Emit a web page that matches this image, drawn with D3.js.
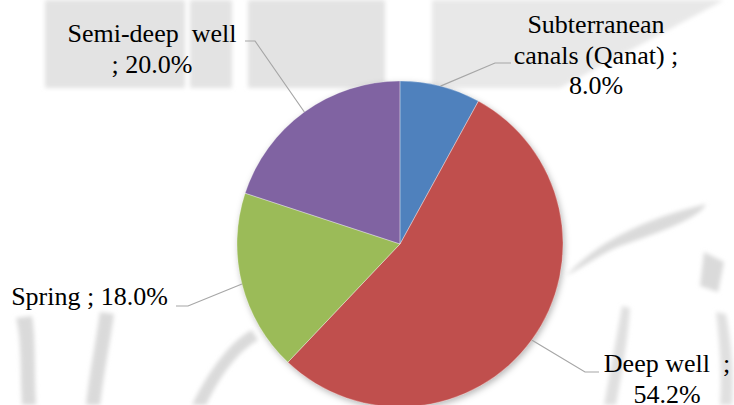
<!DOCTYPE html>
<html>
<head>
<meta charset="utf-8">
<script src="https://cdn.jsdelivr.net/npm/d3@7"></script>
<style>
  html, body { margin: 0; padding: 0; background: #fff; }
  svg { display: block; }
</style>
</head>
<body>
<svg id="chart" width="734" height="405"></svg>
<script>
// Water sources, share of total (%)
const categories = ["Subterranean canals (Qanat)", "Deep well ", "Spring", "Semi-deep  well"];
const values = [8.0, 54.2, 18.0, 20.0];
const colors = ["#4F81BD", "#C0504D", "#9BBB59", "#8064A2"];

// Label placement: text anchor point, line breaks and leader elbow
const labelLayout = [
  { x: 596, y: 33, breaks: ["Subterranean", ";"], elbow: [495, 63], end: [511, 63] },
  { x: 667, y: 372, breaks: [";"], elbow: [585, 372], end: [599, 372] },
  { x: 89.5, y: 305, breaks: [], elbow: [188, 306], end: [176, 306] },
  { x: 152, y: 42, breaks: ["well"], elbow: [255, 41], end: [245, 41] }
];

const W = 734, H = 405;
const cx = 400, cy = 244, R = 163;
const lineH = 30.5;

const svg = d3.select("#chart");
const defs = svg.append("defs");

defs.append("filter").attr("id", "soft").attr("x", "-20%").attr("y", "-20%").attr("width", "140%").attr("height", "140%")
  .append("feGaussianBlur").attr("stdDeviation", 2.2);

const shadow = defs.append("filter").attr("id", "shadow")
  .attr("x", "-20%").attr("y", "-20%").attr("width", "140%").attr("height", "140%");
shadow.append("feDropShadow").attr("dx", 1.5).attr("dy", 2.5).attr("stdDeviation", 3)
  .attr("flood-color", "#000").attr("flood-opacity", 0.28);

// Faint background artwork
const bg = svg.append("g").attr("filter", "url(#soft)");
const band = "#e3e3e3";
[[45, 0, 140, 88], [190, 0, 42, 88], [248, 0, 137, 88]].forEach(r =>
  bg.append("rect").attr("x", r[0]).attr("y", r[1]).attr("width", r[2]).attr("height", r[3]).attr("fill", band));
bg.append("path").attr("d", "M432,0 L724,0 L640,45 L560,88 L432,88 Z").attr("fill", "#e8e8e8");
const stroke = "#dadada";
bg.append("path").attr("d", "M16,318 C22,340 20,370 22,405 L36,405 C34,370 36,340 32,316 Z").attr("fill", stroke);
bg.append("path").attr("d", "M100,312 C96,340 90,370 86,405 L100,405 C104,372 110,342 114,314 Z").attr("fill", stroke);
bg.append("path").attr("d", "M252,330 C232,340 210,368 192,405 L206,405 C222,372 240,350 258,340 Z").attr("fill", stroke);
bg.append("path").attr("d", "M566,276 C590,250 630,222 706,204 C700,218 660,232 620,246 C600,254 585,266 566,276 Z").attr("fill", stroke);
bg.append("path").attr("d", "M704,252 L724,262 L718,292 L700,286 Z").attr("fill", stroke);
bg.append("path").attr("d", "M622,306 C616,340 610,372 604,405 L616,405 C622,372 628,340 630,308 Z").attr("fill", "#e0e0e0");
bg.append("path").attr("d", "M716,312 C720,345 722,375 720,405 L732,405 C734,375 732,345 726,314 Z").attr("fill", "#e0e0e0");

// Pie
const pie = d3.pie().sort(null).value(d => d.v);
const data = values.map((v, i) => ({ v, name: categories[i], color: colors[i] }));
const arcs = pie(data);
const arc = d3.arc().innerRadius(0).outerRadius(R);

const pg = svg.append("g").attr("transform", `translate(${cx},${cy})`);
pg.append("g").attr("filter", "url(#shadow)")
  .selectAll("path").data(arcs).join("path")
  .attr("d", arc).attr("fill", d => d.data.color);
pg.selectAll("path.sep").data(arcs).join("path").attr("class", "sep")
  .attr("d", arc).attr("fill", "none").attr("stroke", "#ffffff").attr("stroke-opacity", 0.35).attr("stroke-width", 0.8);

// Leader lines and labels
arcs.forEach((a, i) => {
  const L = labelLayout[i];
  const mid = (a.startAngle + a.endAngle) / 2;
  const ax = cx + R * Math.sin(mid), ay = cy - R * Math.cos(mid);
  svg.append("polyline")
    .attr("points", [[ax, ay], L.elbow, L.end].map(p => p.join(",")).join(" "))
    .attr("fill", "none").attr("stroke", "#a6a6a6").attr("stroke-width", 1.2);

  let rest = `${a.data.name} ; ${a.data.v.toFixed(1)}%`;
  const lines = [];
  L.breaks.forEach(b => {
    const k = rest.indexOf(b) + b.length;
    lines.push(rest.slice(0, k));
    rest = rest.slice(k).replace(/^ /, "");
  });
  lines.push(rest);

  const t = svg.append("text")
    .attr("font-family", "Liberation Serif").attr("font-size", 26).attr("fill", "#000")
    .attr("text-anchor", "middle").attr("xml:space", "preserve").style("white-space", "pre");
  lines.forEach((ln, j) => {
    t.append("tspan").attr("x", L.x).attr("y", L.y + j * lineH).text(ln);
  });
});
</script>
</body>
</html>
